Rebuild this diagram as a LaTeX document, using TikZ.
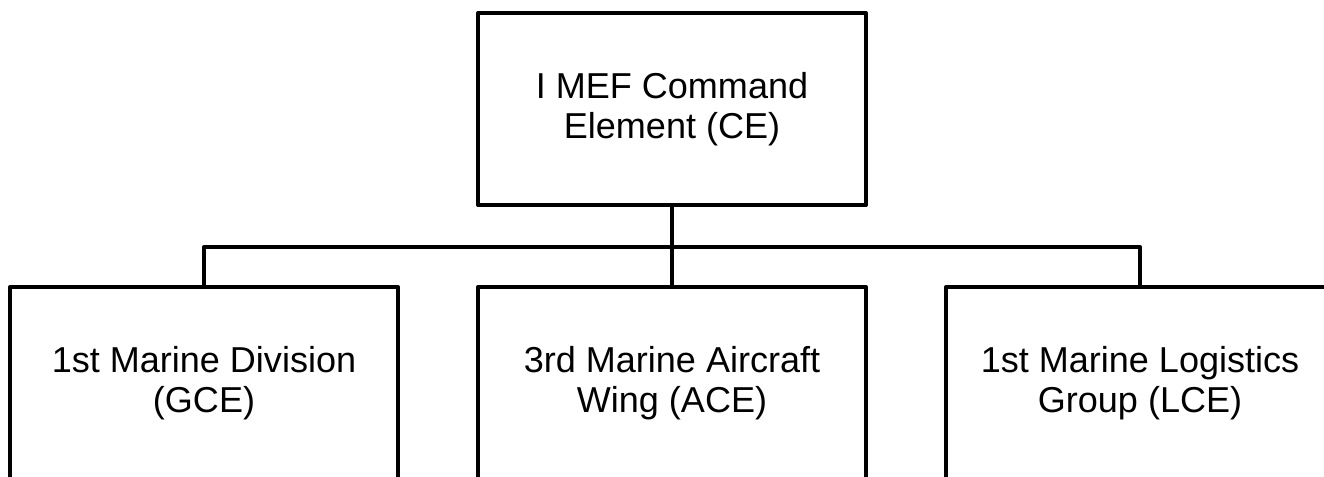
\documentclass[tikz,border=0pt]{standalone}
\usepackage{fontspec}
\setmainfont{Liberation Sans}
\usetikzlibrary{positioning}

\begin{document}
\begin{tikzpicture}[
  node distance=1.64cm and 1.6cm,
  unit/.style={draw, line width=2.27pt, line join=round, outer sep=0pt, inner sep=0pt,
    minimum width=7.76cm, minimum height=3.84cm, align=center,
    font=\fontsize{20.5}{22.8}\selectfont},
  link/.style={line width=2.27pt, line join=round}
]
\useasboundingbox (0,0) rectangle (26.48,-9.52);
\clip (0,0) rectangle (26.48,-9.52);

\node[unit] (ce) at (13.44,-2.18) {I MEF Command\\Element (CE)};
\node[unit, below=of ce] (ace) {3rd Marine Aircraft\\Wing (ACE)};
\node[unit, left=of ace] (gce) {1st Marine Division\\(GCE)};
\node[unit, right=of ace] (lce) {1st Marine Logistics\\Group (LCE)};

\draw[link] (ce) -- (ace);
\draw[link] (gce.north) -- ++(0,0.8) -| (lce.north);
\end{tikzpicture}
\end{document}
